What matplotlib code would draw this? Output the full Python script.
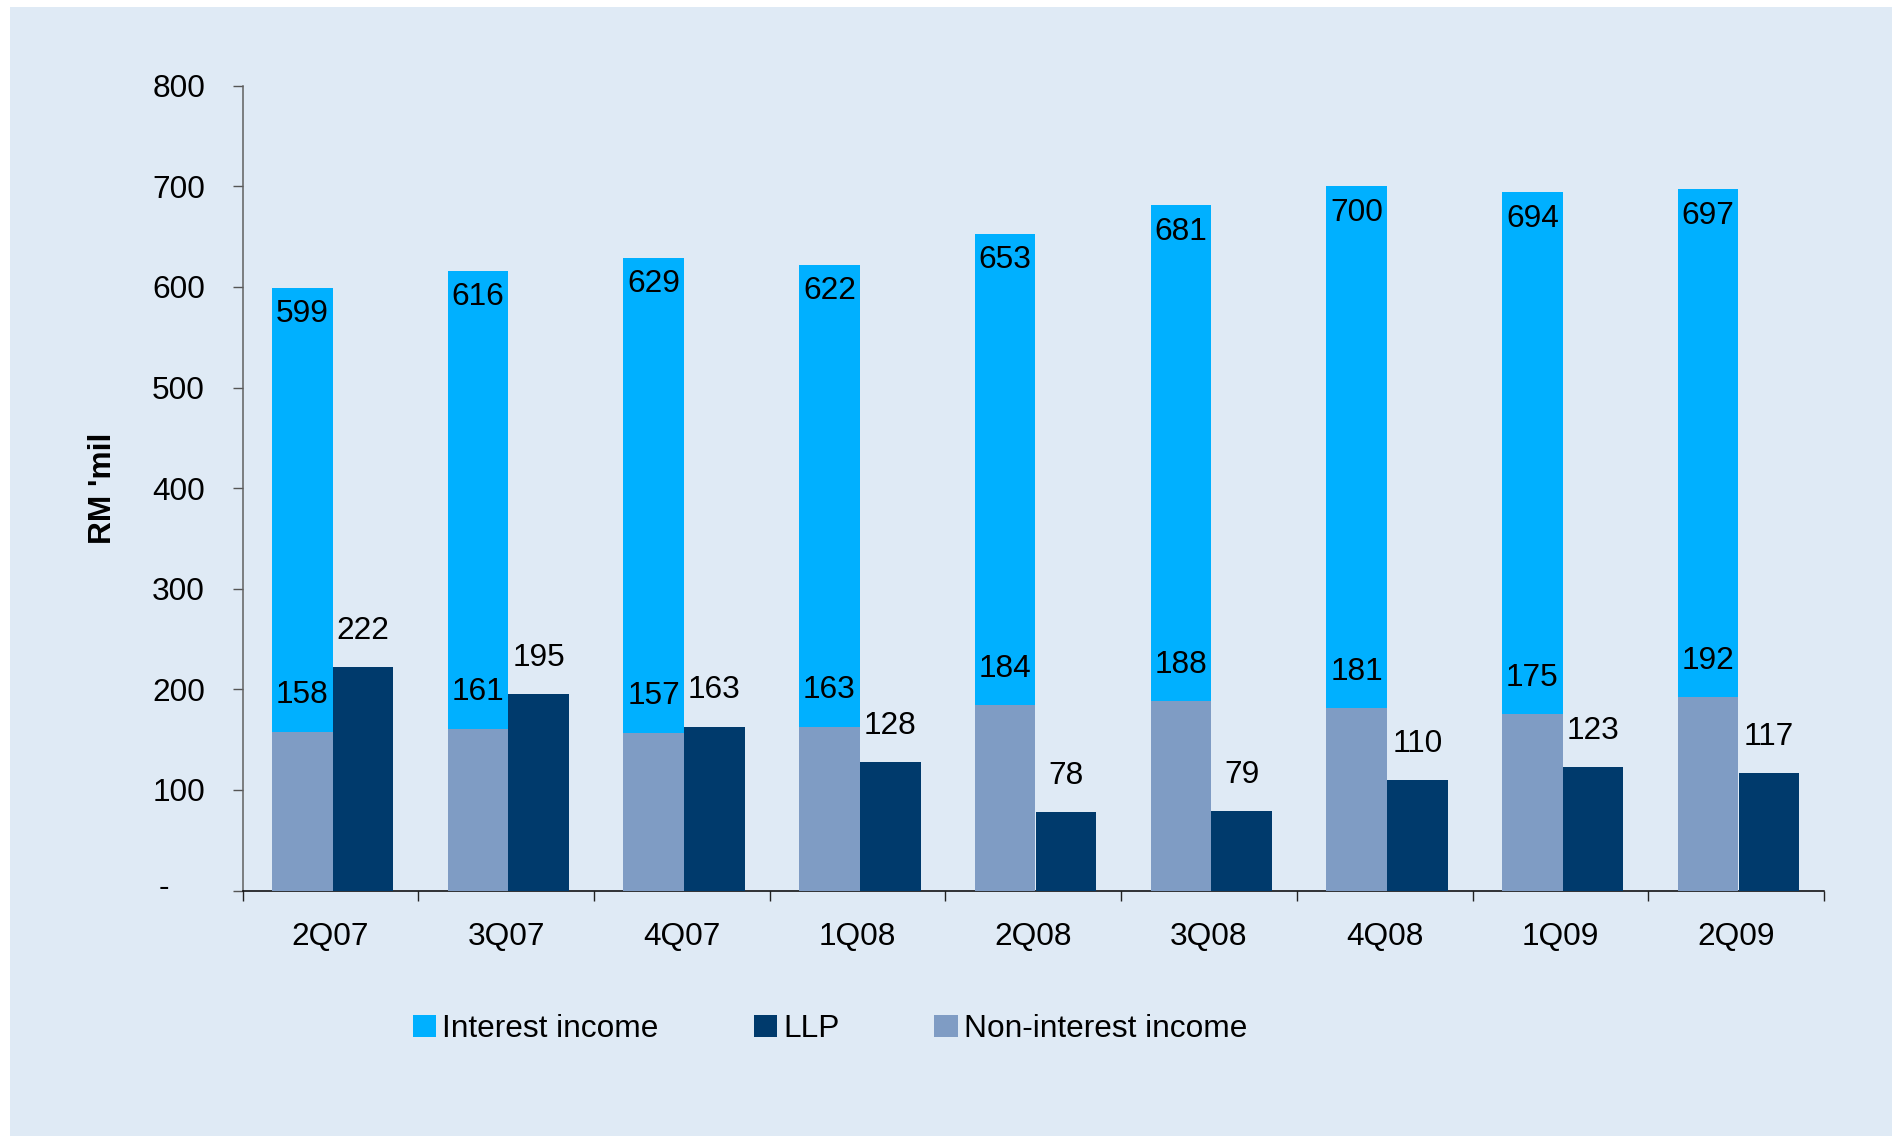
import matplotlib
matplotlib.use("Agg")
import matplotlib.pyplot as plt
import numpy as np
from matplotlib.patches import Patch, Rectangle

# Quarterly figures, RM million
quarters = ["2Q07", "3Q07", "4Q07", "1Q08", "2Q08", "3Q08", "4Q08", "1Q09", "2Q09"]
interest_income = [599, 616, 629, 622, 653, 681, 700, 694, 697]
non_interest_income = [158, 161, 157, 163, 184, 188, 181, 175, 192]
llp = [222, 195, 163, 128, 78, 79, 110, 123, 117]

y_ticks = [0, 100, 200, 300, 400, 500, 600, 700, 800]
y_tick_labels = ["", "100", "200", "300", "400", "500", "600", "700", "800"]
zero_label = "-"

series_names = ["Interest income", "LLP", "Non-interest income"]
y_title = "RM 'mil"

CYAN = "#00B0FF"
NAVY = "#003A6C"
GREY = "#7F9CC4"
PANEL = "#DFEAF5"
FS = 22.8

plt.rcParams["font.family"] = ["Liberation Sans", "DejaVu Sans"]

W, H = 1892, 1136
fig = plt.figure(figsize=(W / 100, H / 100), dpi=100)
fig.patch.set_facecolor("white")

# light blue slide panel behind the chart
fig.add_artist(Rectangle((10 / W, 0), 1 - 10 / W, 1 - 7 / H,
                         transform=fig.transFigure, facecolor=PANEL,
                         edgecolor="none", zorder=-10))

left, right = 242.5 / W, 1824 / W
bottom, top = 1 - 890.5 / H, 1 - 85.7 / H
ax = fig.add_axes([left, bottom, right - left, top - bottom])
ax.patch.set_alpha(0)

x = np.arange(len(quarters))
w = 0.345
x1 = x - 0.16
x2 = x + 0.186

ax.bar(x1, interest_income, w, color=CYAN, zorder=2)
ax.bar(x1, non_interest_income, w, color=GREY, zorder=3)
ax.bar(x2, llp, w, color=NAVY, zorder=3)

# value labels
for xi, v in zip(x1, interest_income):
    ax.annotate(f"{v}", (xi, v), xytext=(0, -19), textcoords="offset points",
                ha="center", va="center", fontsize=FS, color="black", zorder=5)
for xi, v in zip(x1, non_interest_income):
    ax.annotate(f"{v}", (xi, v), xytext=(0, 26.5), textcoords="offset points",
                ha="center", va="center", fontsize=FS, color="black", zorder=5)
for xi, v in zip(x2, llp):
    ax.annotate(f"{v}", (xi, v), xytext=(0, 26), textcoords="offset points",
                ha="center", va="center", fontsize=FS, color="black", zorder=5)

ax.set_xlim(-0.5, len(quarters) - 0.5)
ax.set_ylim(0, 800)

ax.set_xticks(x)
ax.set_xticklabels(quarters)
ax.set_xticks(np.arange(-0.5, len(quarters), 1), minor=True)
ax.tick_params(axis="x", which="major", length=0, pad=22.5, labelsize=FS)
ax.tick_params(axis="x", which="minor", length=7.5, width=1.0,
               color="#222222", direction="out")

ax.set_yticks(y_ticks)
ax.set_yticklabels(y_tick_labels)
ax.tick_params(axis="y", length=7.5, width=1.0, color="#555555",
               pad=19.5, labelsize=FS, direction="out")

# accounting-style dash for zero
ax.annotate(zero_label, xy=(0, 0), xycoords=("axes fraction", "data"),
            xytext=(-(242.7 - 164) / 1.389, 1.5), textcoords="offset points",
            ha="center", va="center", fontsize=FS, color="black",
            annotation_clip=False)

for s in ("top", "right"):
    ax.spines[s].set_visible(False)
ax.spines["left"].set_color("#606060")
ax.spines["left"].set_linewidth(1.1)
ax.spines["bottom"].set_color("black")
ax.spines["bottom"].set_linewidth(1.1)

ax.text((103 - 242.5) / (1824 - 242.5), 0.5, y_title, transform=ax.transAxes,
        rotation=90, ha="center", va="center", fontsize=FS,
        fontweight="bold", color="black")

handles = [Patch(facecolor=CYAN, label=series_names[0]),
           Patch(facecolor=NAVY, label=series_names[1]),
           Patch(facecolor=GREY, label=series_names[2])]
fig.legend(handles=handles, loc="center", bbox_to_anchor=(830 / W, 1 - 1029 / H),
           ncol=3, frameon=False, fontsize=FS, handlelength=0.73,
           handleheight=0.73, handletextpad=0.2, columnspacing=3.0)

fig.savefig("out.png", dpi=100)
